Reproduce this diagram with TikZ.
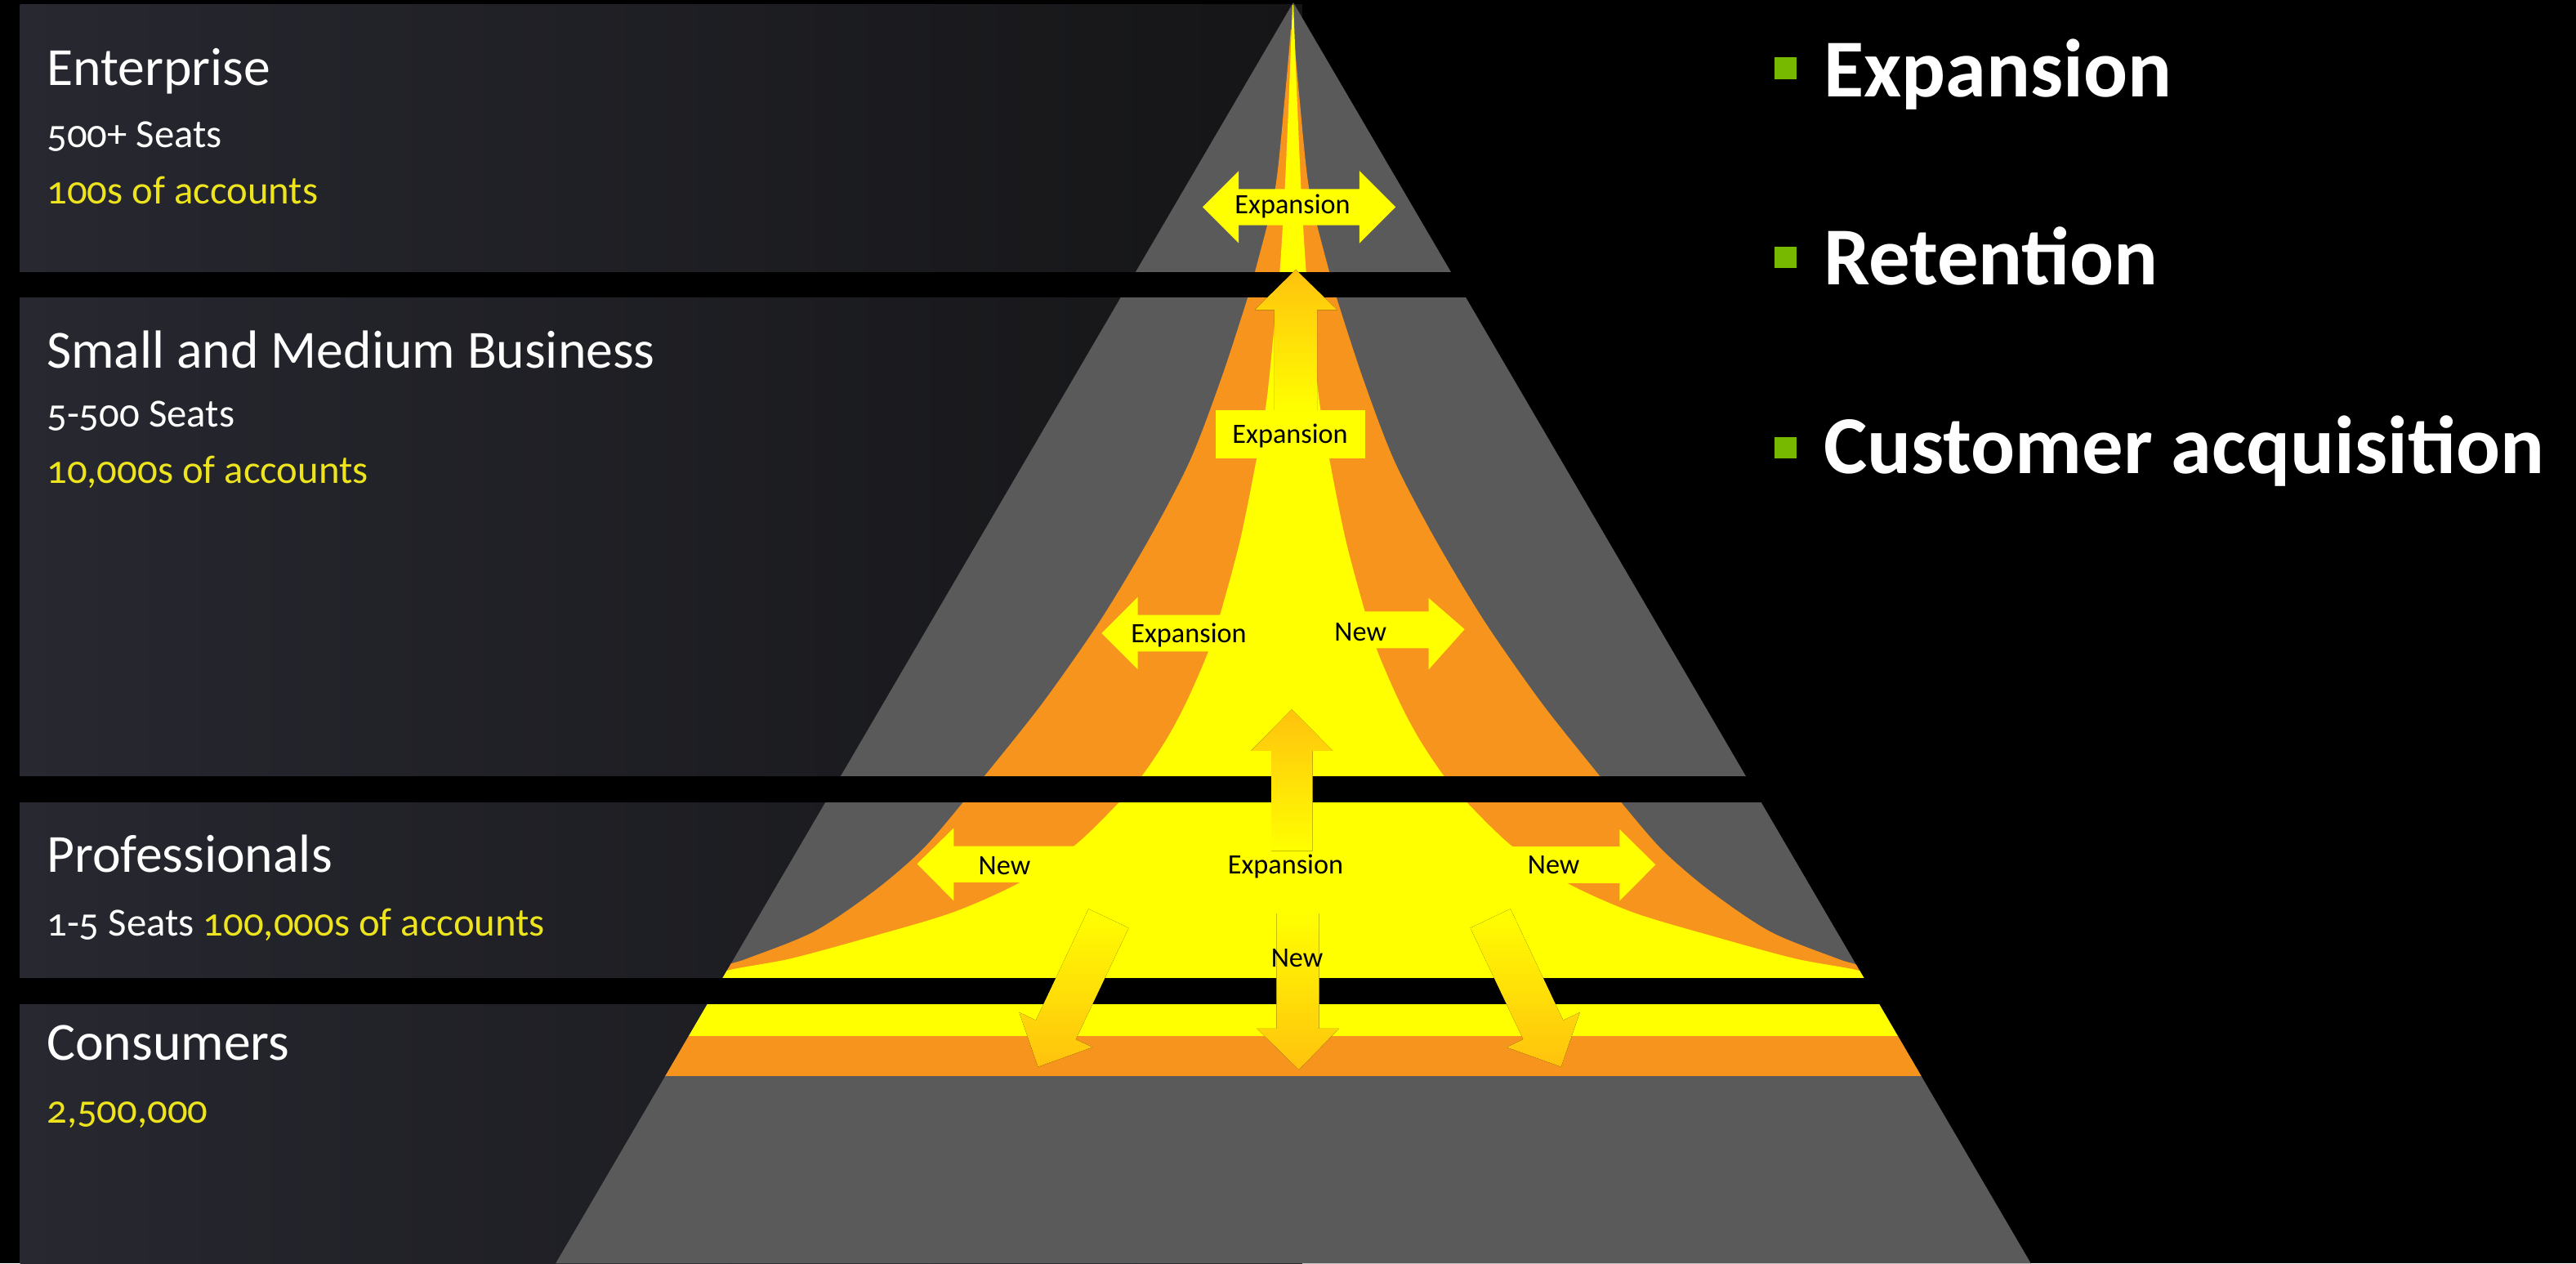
\documentclass[tikz,border=0pt]{standalone}
\usepackage{fontspec}
\setmainfont{Carlito}[Numbers=OldStyle]

\definecolor{pyrgray}{RGB}{90,90,90}
\definecolor{flowyellow}{RGB}{255,255,0}
\definecolor{floworange}{RGB}{247,148,30}
\definecolor{flowgold}{RGB}{255,194,14}
\definecolor{acctyellow}{RGB}{238,228,30}
\definecolor{panelleft}{RGB}{39,40,48}
\definecolor{panelright}{RGB}{21,21,23}
\definecolor{bulletgreen}{RGB}{118,185,0}

\tikzset{
  every node/.style={inner sep=0pt, outer sep=0pt},
  panelhead/.style={anchor=base west, text=white, font=\fontsize{18.6}{22}\selectfont},
  panelsub/.style={anchor=base west, text=white, font=\fontsize{13.8}{16}\selectfont},
  flowlabel/.style={anchor=base, text=black, font=\fontsize{9.7}{11}\selectfont},
  bullettext/.style={anchor=base west, text=white, font=\fontsize{28.5}{32}\selectfont\bfseries},
  bulletmark/.style={fill=bulletgreen},
  gapband/.style={fill=black},
  flatarrow/.style={fill=flowyellow},
  uparrow/.style={top color=flowgold, bottom color=flowyellow},
  downarrow/.style={top color=flowyellow, bottom color=flowgold},
}

\begin{document}
\begin{tikzpicture}[x=0.02cm, y=-0.02cm]
\useasboundingbox (0,0) rectangle (1568,769);
\fill[black] (0,0) rectangle (1568,769);

% segment panels on the left
\fill[left color=panelleft, right color=panelright] (12.3,2.5) rectangle (792.6,769);

% pyramid body
\fill[pyrgray] (787.2,1.5) -- (1236.2,769) -- (338.2,769) -- cycle;

% orange and yellow flow horns, kept inside the pyramid
\begin{scope}
  \clip (787.2,1.5) -- (1236.2,769) -- (338.2,769) -- cycle;
  \fill[floworange]
    plot[smooth, tension=0.5] coordinates {(434.5,598) (441.5,588) (454.5,583.5) (495.5,567) (532.5,542) (561.5,517) (586.5,488) (599.5,472) (634.5,428) (669.5,378) (699.5,328) (724.5,280) (743.5,230) (759.5,181) (764,165) (776,116) (782,60) (785.7,18)}
    -- plot[smooth, tension=0.5] coordinates {(787.3,18) (791,60) (797,116) (809,165) (813.5,181) (829.5,230) (848.5,280) (873.5,328) (903.5,378) (938.5,428) (973.5,472) (986.5,488) (1011.5,517) (1040.5,542) (1077.5,567) (1118.5,583.5) (1131.5,588) (1138.5,598)}
    -- cycle;
  \fill[flowyellow]
    plot[smooth, tension=0.5] coordinates {(435,598) (442,590.9) (481,583.5) (530,570.2) (580,555.3) (621,537) (654,514.7) (679,490.6) (695,472.4) (710,450) (722,427.6) (735,397.8) (743,372.9) (755,328.2) (765,278.5) (771,243.7) (775.5,200) (779,165) (782,116) (784.5,60) (786.7,3)}
    -- plot[smooth, tension=0.5] coordinates {(787.3,3) (789.5,60) (792,116) (795,165) (798.5,200) (803,243.7) (809,278.5) (819,328.2) (831,372.9) (839,397.8) (852,427.6) (864,450) (879,472.4) (895,490.6) (920,514.7) (953,537) (994,555.3) (1044,570.2) (1093,583.5) (1132,590.9) (1139,598)}
    -- cycle;
  % consumer tier stripes
  \fill[flowyellow] (300,611) rectangle (1300,630.6);
  \fill[floworange] (300,630.6) rectangle (1300,655);
\end{scope}

% black gaps between the tiers
\fill[gapband] (0,165.4) rectangle (1568,181);
\fill[gapband] (0,472.5) rectangle (1568,488.2);
\fill[gapband] (0,595.5) rectangle (1568,611);

% enterprise tier: two-way expansion arrow
\fill[flatarrow] (732,126) -- (754,104) -- (754,115) -- (827.5,115) -- (827.5,104) -- (849.5,126)
  -- (827.5,148) -- (827.5,137) -- (754,137) -- (754,148) -- cycle;
\node[flowlabel] (entexp) at (786.8,130.1) {Expansion};

% SMB tier: upward arrow into enterprise and its label box
\fill[uparrow] (788.7,164.1) -- (813.9,188.6) -- (801.7,188.6) -- (801.7,250) -- (775.7,250)
  -- (775.7,188.6) -- (763.8,188.6) -- cycle;
\node[fill=flowyellow, minimum width=1.824cm, minimum height=0.58cm, anchor=north west] (smbbox) at (739.8,249.8) {};
\node[flowlabel] (smbexp) at (785.3,269.7) {Expansion};

% SMB tier: sideways arrows
\fill[flatarrow] (670.5,385.4) -- (692.6,363.3) -- (692.6,374.3) -- (765,374.3) -- (765,396.5)
  -- (692.6,396.5) -- (692.6,407.4) -- cycle;
\node[flowlabel] (smbleft) at (723.6,391.2) {Expansion};
\fill[flatarrow] (891.5,383) -- (869.6,364) -- (869.6,372.2) -- (805,372.2) -- (805,394.5)
  -- (869.6,394.5) -- (869.6,407.5) -- cycle;
\node[flowlabel] (smbright) at (828.1,390) {New};

% professionals tier: upward arrow into SMB
\fill[uparrow] (786.2,431.8) -- (811.3,457) -- (799,457) -- (799,518) -- (773.9,518)
  -- (773.9,457) -- (761.5,457) -- cycle;

% professionals tier: sideways arrows
\fill[flatarrow] (558.2,525.8) -- (580.5,504) -- (580.5,515) -- (665,515) -- (665,537)
  -- (580.5,537) -- (580.5,548.2) -- cycle;
\node[flowlabel] (proleft) at (611.4,532.1) {New};
\fill[flatarrow] (1007.7,526.3) -- (985.8,504.7) -- (985.8,515.2) -- (905,515.2) -- (905,537.5)
  -- (985.8,537.5) -- (985.8,548.3) -- cycle;
\node[flowlabel] (proright) at (945.7,532) {New};
\node[flowlabel] (proexp) at (782.5,531.7) {Expansion};

% downward arrows into the consumer tier
\fill[downarrow] (777,556) -- (803,556) -- (803,626) -- (815,626) -- (790.6,651) -- (765,626)
  -- (777,626) -- cycle;
\fill[downarrow] (662.6,553.2) -- (630.5,621.0) -- (620.4,616.2) -- (631.8,649.3) -- (664.9,637.4)
  -- (654.8,632.6) -- (687,564.8) -- cycle;
\fill[downarrow] (919.4,553.2) -- (951.5,621.0) -- (961.6,616.2) -- (950.2,649.3) -- (917.1,637.4)
  -- (927.2,632.6) -- (895,564.8) -- cycle;
\node[flowlabel] (pronew) at (789.5,588.4) {New};

% tier captions
\node[panelhead] (enttitle) at (28.5,52.2) {Enterprise};
\node[panelsub] (entseats) at (28.5,90) {500+ Seats};
\node[panelsub, text=acctyellow] (entcount) at (28.5,124.3) {100s of accounts};

\node[panelhead] (smbtitle) at (28.5,224) {Small and Medium Business};
\node[panelsub] (smbseats) at (28.5,260) {5-500 Seats};
\node[panelsub, text=acctyellow] (smbcount) at (28.5,294.3) {10,000s of accounts};

\node[panelhead] (protitle) at (28.5,531) {Professionals};
\node[panelsub] (proseats) at (28.5,569.4) {1-5 Seats \textcolor{acctyellow}{100,000s of accounts}};

\node[panelhead] (contitle) at (28.5,645) {Consumers};
\node[panelsub, text=acctyellow] (concount) at (28.5,683.5) {2,500,000};

% strategy bullets
\fill[bulletmark] (1080,34.6) rectangle (1093.5,48);
\node[bullettext] (bexp) at (1110,58.9) {Expansion};
\fill[bulletmark] (1080,150) rectangle (1093.5,163);
\node[bullettext] (bret) at (1110,173.3) {Retention};
\fill[bulletmark] (1080,266) rectangle (1093.5,279);
\node[bullettext] (bacq) at (1110,288) {Customer acquisition};
\end{tikzpicture}
\end{document}
